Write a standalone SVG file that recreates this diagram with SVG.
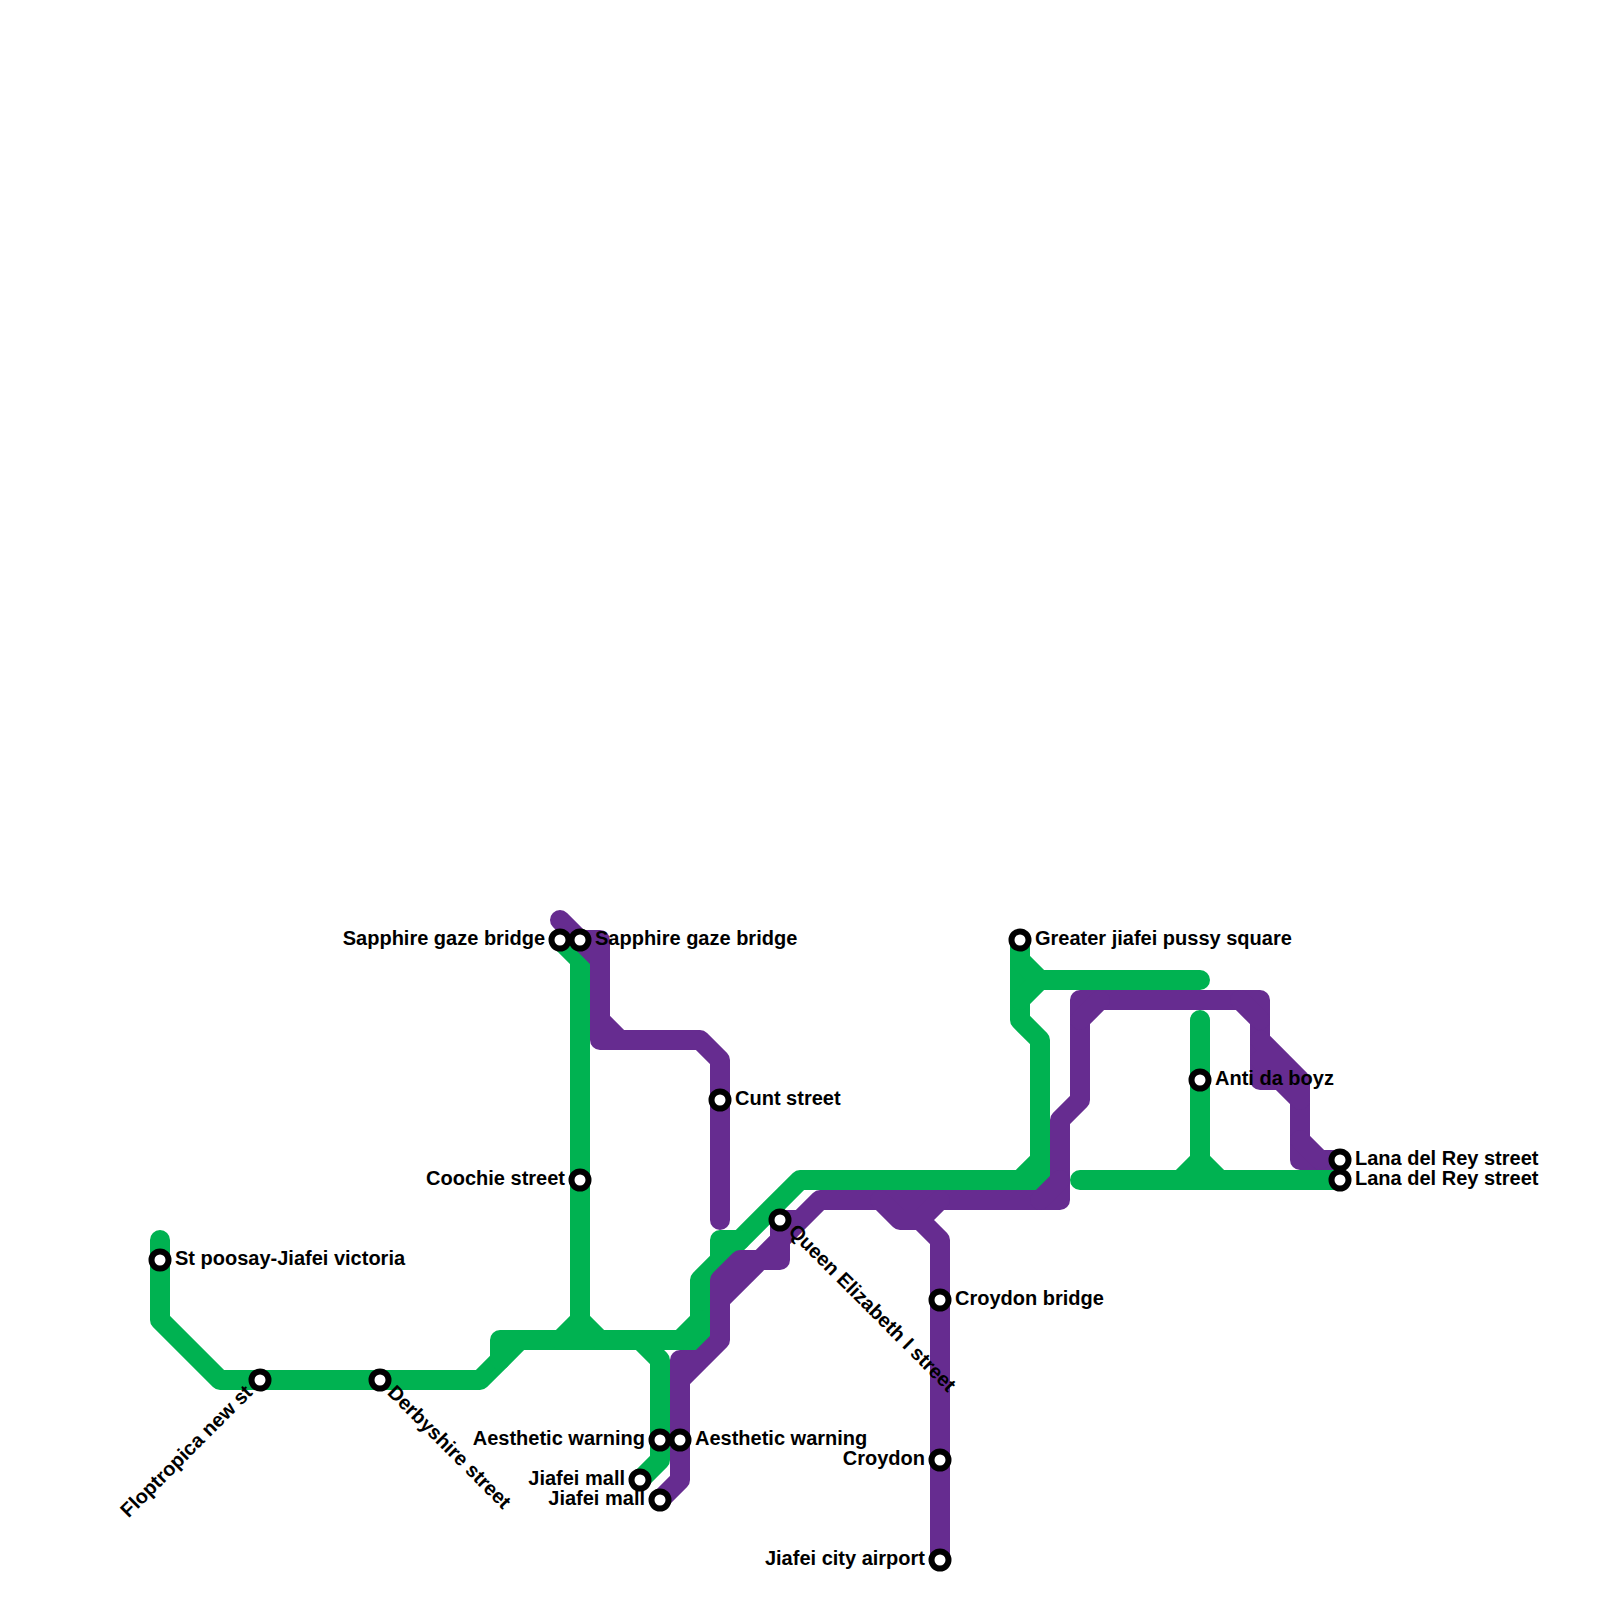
<svg xmlns="http://www.w3.org/2000/svg" width="1600" height="1600" viewBox="0 0 1600 1600">
<style>
.l{fill:none;stroke-width:20;stroke-linecap:round;stroke-linejoin:round}
.g{stroke:#00b251}
.p{stroke:#662c90}
.s{fill:#fff;stroke:#000;stroke-width:6}
text{font-family:"Liberation Sans",Arial,sans-serif;font-weight:700;font-size:20px;fill:#000}
.e{text-anchor:end}
</style>
<rect width="1600" height="1600" fill="#fff"/>
<g id="connectors">
<g id="green-line">
<path class="l g" d="M160 1240V1320L220 1380H480L520 1340"/>
<path class="l g" d="M500 1360V1340H700V1280L800 1180H1040V1040L1020 1020V940M1020 1180L1040 1160"/>
<path class="l g" d="M720 1260V1240H740"/>
<path class="l g" d="M560 940L580 960V1320L560 1340M580 1320L600 1340"/>
<path class="l g" d="M680 1340L700 1320M640 1340L660 1360V1460L640 1480"/>
<path class="l g" d="M1020 960L1040 980L1020 1000M1040 980H1200"/>
<path class="l g" d="M1200 1020V1160L1180 1180M1200 1160L1220 1180M1080 1180H1340"/>
</g>
<g id="purple-line">
<path class="l p" d="M560 920L600 960M580 940H600V1040H700L720 1060V1220M600 1020L620 1040"/>
<path class="l p" d="M660 1500L680 1480V1360H700L720 1340V1280L740 1260H780V1220H800M680 1380L720 1340M720 1300L820 1200H1060V1120L1080 1100V1000H1260V1080H1280L1300 1100V1160H1340"/>
<path class="l p" d="M880 1200L900 1220H920L940 1240V1560M920 1220L940 1200M1040 1200L1060 1180"/>
<path class="l p" d="M1080 1020L1100 1000M1240 1000L1260 1020M1260 1040L1300 1080V1100M1260 1060L1280 1080M1300 1140L1320 1160"/>
</g>
</g>
<g id="st-poosay"><circle class="s" cx="160" cy="1260" r="8.5"/><text x="175" y="1265">St poosay-Jiafei victoria</text></g>
<g id="floptropica"><circle class="s" cx="260" cy="1380" r="8.5"/><text class="e" transform="translate(250 1390) rotate(-45)" x="0" y="5">Floptropica new st</text></g>
<g id="derbyshire"><circle class="s" cx="380" cy="1380" r="8.5"/><text transform="translate(390 1390) rotate(45)" x="0" y="5">Derbyshire street</text></g>
<g id="sapphire-green"><circle class="s" cx="560" cy="940" r="8.5"/><text class="e" x="545" y="945">Sapphire gaze bridge</text></g>
<g id="sapphire-purple"><circle class="s" cx="580" cy="940" r="8.5"/><text x="595" y="945">Sapphire gaze bridge</text></g>
<g id="coochie"><circle class="s" cx="580" cy="1180" r="8.5"/><text class="e" x="565" y="1185">Coochie street</text></g>
<g id="aesthetic-green"><circle class="s" cx="660" cy="1440" r="8.5"/><text class="e" x="645" y="1445">Aesthetic warning</text></g>
<g id="aesthetic-purple"><circle class="s" cx="680" cy="1440" r="8.5"/><text x="695" y="1445">Aesthetic warning</text></g>
<g id="jiafei-green"><circle class="s" cx="640" cy="1480" r="8.5"/><text class="e" x="625" y="1485">Jiafei mall</text></g>
<g id="jiafei-purple"><circle class="s" cx="660" cy="1500" r="8.5"/><text class="e" x="645" y="1505">Jiafei mall</text></g>
<g id="cunt"><circle class="s" cx="720" cy="1100" r="8.5"/><text x="735" y="1105">Cunt street</text></g>
<g id="queen"><circle class="s" cx="780" cy="1220" r="8.5"/><text transform="translate(791 1229) rotate(45)" x="0" y="5">Queen Elizabeth I street</text></g>
<g id="croydon-bridge"><circle class="s" cx="940" cy="1300" r="8.5"/><text x="955" y="1305">Croydon bridge</text></g>
<g id="croydon"><circle class="s" cx="940" cy="1460" r="8.5"/><text class="e" x="925" y="1465">Croydon</text></g>
<g id="airport"><circle class="s" cx="940" cy="1560" r="8.5"/><text class="e" x="925" y="1565">Jiafei city airport</text></g>
<g id="greater"><circle class="s" cx="1020" cy="940" r="8.5"/><text x="1035" y="945">Greater jiafei pussy square</text></g>
<g id="anti"><circle class="s" cx="1200" cy="1080" r="8.5"/><text x="1215" y="1085">Anti da boyz</text></g>
<g id="lana-purple"><circle class="s" cx="1340" cy="1160" r="8.5"/><text x="1355" y="1165">Lana del Rey street</text></g>
<g id="lana-green"><circle class="s" cx="1340" cy="1180" r="8.5"/><text x="1355" y="1185">Lana del Rey street</text></g>
</svg>
